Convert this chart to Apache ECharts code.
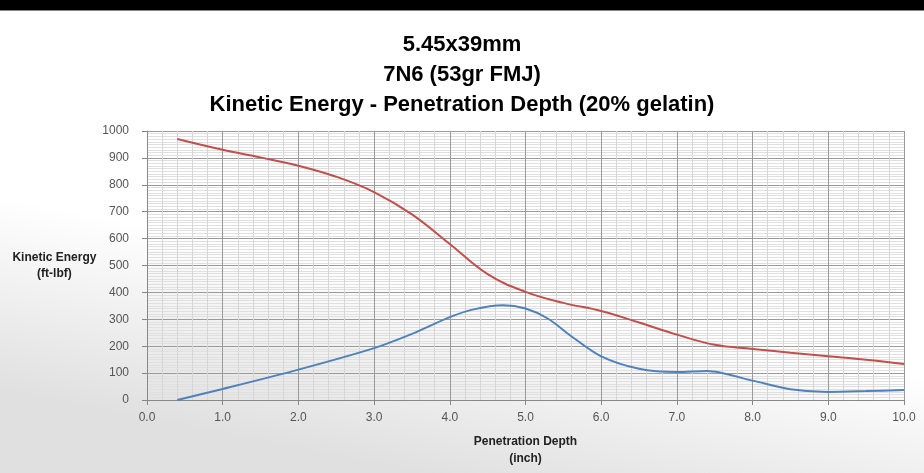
<!DOCTYPE html>
<html><head><meta charset="utf-8">
<script src="https://cdn.jsdelivr.net/npm/echarts@6/dist/echarts.min.js"></script>
<style>html,body{margin:0;padding:0;}#c{width:924px;height:473px;}</style>
</head><body><div id="c"></div>
<script>
const titleLines = ["5.45x39mm", "7N6 (53gr FMJ)", "Kinetic Energy - Penetration Depth (20% gelatin)"];
const yAxisTitle = "Kinetic Energy\n(ft-lbf)";
const xAxisTitle = "Penetration Depth\n(inch)";
const redDepth = [0.4, 1.0, 1.5, 2.0, 2.5, 3.0, 3.5, 4.0, 4.5, 5.0, 5.5, 6.0, 6.5, 7.0, 7.5, 8.0, 8.5, 9.0, 9.5, 10.0];
const redEnergy = [970, 930, 902, 871, 830, 773, 690, 580, 468, 402, 361, 331, 288, 243, 205, 190, 176, 163, 150, 134];
const blueDepth = [0.4, 1.0, 2.0, 3.0, 3.5, 4.0, 4.3, 4.7, 5.0, 5.3, 5.6, 6.0, 6.5, 7.0, 7.4, 8.0, 8.5, 9.0, 9.5, 10.0];
const blueEnergy = [0, 41, 113, 193, 246, 308, 336, 352, 340, 302, 238, 162, 116, 104, 108, 72, 40, 30, 33, 37];

const font = "'Liberation Sans', 'Open Sans', sans-serif";
const chart = echarts.init(document.getElementById('c'));
chart.setOption({
  backgroundColor: new echarts.graphic.LinearGradient(0.55, 0, 0.45, 1, [
    {offset: 0, color: '#ffffff'}, {offset: 0.6, color: '#ffffff'}, {offset: 1, color: '#e0e0e0'}
  ]),
  animation: false,
  graphic: [
    {type: 'rect', left: 0, top: 0, shape: {width: 924, height: 10}, style: {fill: '#000'}},
    {type: 'rect', left: 0, top: 10, shape: {width: 924, height: 1}, style: {fill: '#888'}}
  ],
  title: {
    text: titleLines.join('\n'), left: 'center', top: 25,
    textStyle: {fontFamily: font, fontWeight: 'bold', fontSize: 22, lineHeight: 30, color: '#000'}
  },
  grid: {left: 147, right: 20, top: 131, bottom: 73},
  xAxis: {
    type: 'value', min: 0, max: 10, interval: 1,
    name: xAxisTitle, nameLocation: 'middle', nameGap: 33,
    nameTextStyle: {fontFamily: font, fontWeight: 'bold', fontSize: 12, lineHeight: 17, color: '#222', verticalAlign: 'top'},
    axisLine: {lineStyle: {color: '#888'}},
    axisTick: {show: true, length: 5, lineStyle: {color: '#888'}},
    axisLabel: {formatter: v => v.toFixed(1), fontFamily: font, fontSize: 12, color: '#555', margin: 12},
    splitLine: {show: true, lineStyle: {color: '#9a9a9a', width: 1}},
    minorTick: {show: false, splitNumber: 5},
    minorSplitLine: {show: true, lineStyle: {color: '#d6d6d6', width: 1}}
  },
  yAxis: {
    type: 'value', min: 0, max: 1000, interval: 100,
    name: yAxisTitle, nameLocation: 'middle', nameGap: 88, nameRotate: 0,
    nameTextStyle: {fontFamily: font, fontWeight: 'bold', fontSize: 12, lineHeight: 16, color: '#222', align: 'center'},
    axisLine: {show: true, lineStyle: {color: '#888'}},
    axisTick: {show: true, length: 5, lineStyle: {color: '#888'}},
    axisLabel: {formatter: v => String(v), fontFamily: font, fontSize: 12, color: '#555', margin: 18},
    splitLine: {show: true, lineStyle: {color: '#9a9a9a', width: 1}},
    minorTick: {show: false, splitNumber: 10},
    minorSplitLine: {show: true, lineStyle: {color: '#e0e0e0', width: 1}}
  },
  series: [
    {type: 'line', data: redDepth.map((x, i) => [x, redEnergy[i]]), smooth: 0.4, showSymbol: false,
     lineStyle: {color: '#C0504D', width: 2}, itemStyle: {color: '#C0504D'}},
    {type: 'line', data: blueDepth.map((x, i) => [x, blueEnergy[i]]), smooth: 0.3, showSymbol: false,
     lineStyle: {color: '#4F81BD', width: 2}, itemStyle: {color: '#4F81BD'}}
  ]
});
</script></body></html>
